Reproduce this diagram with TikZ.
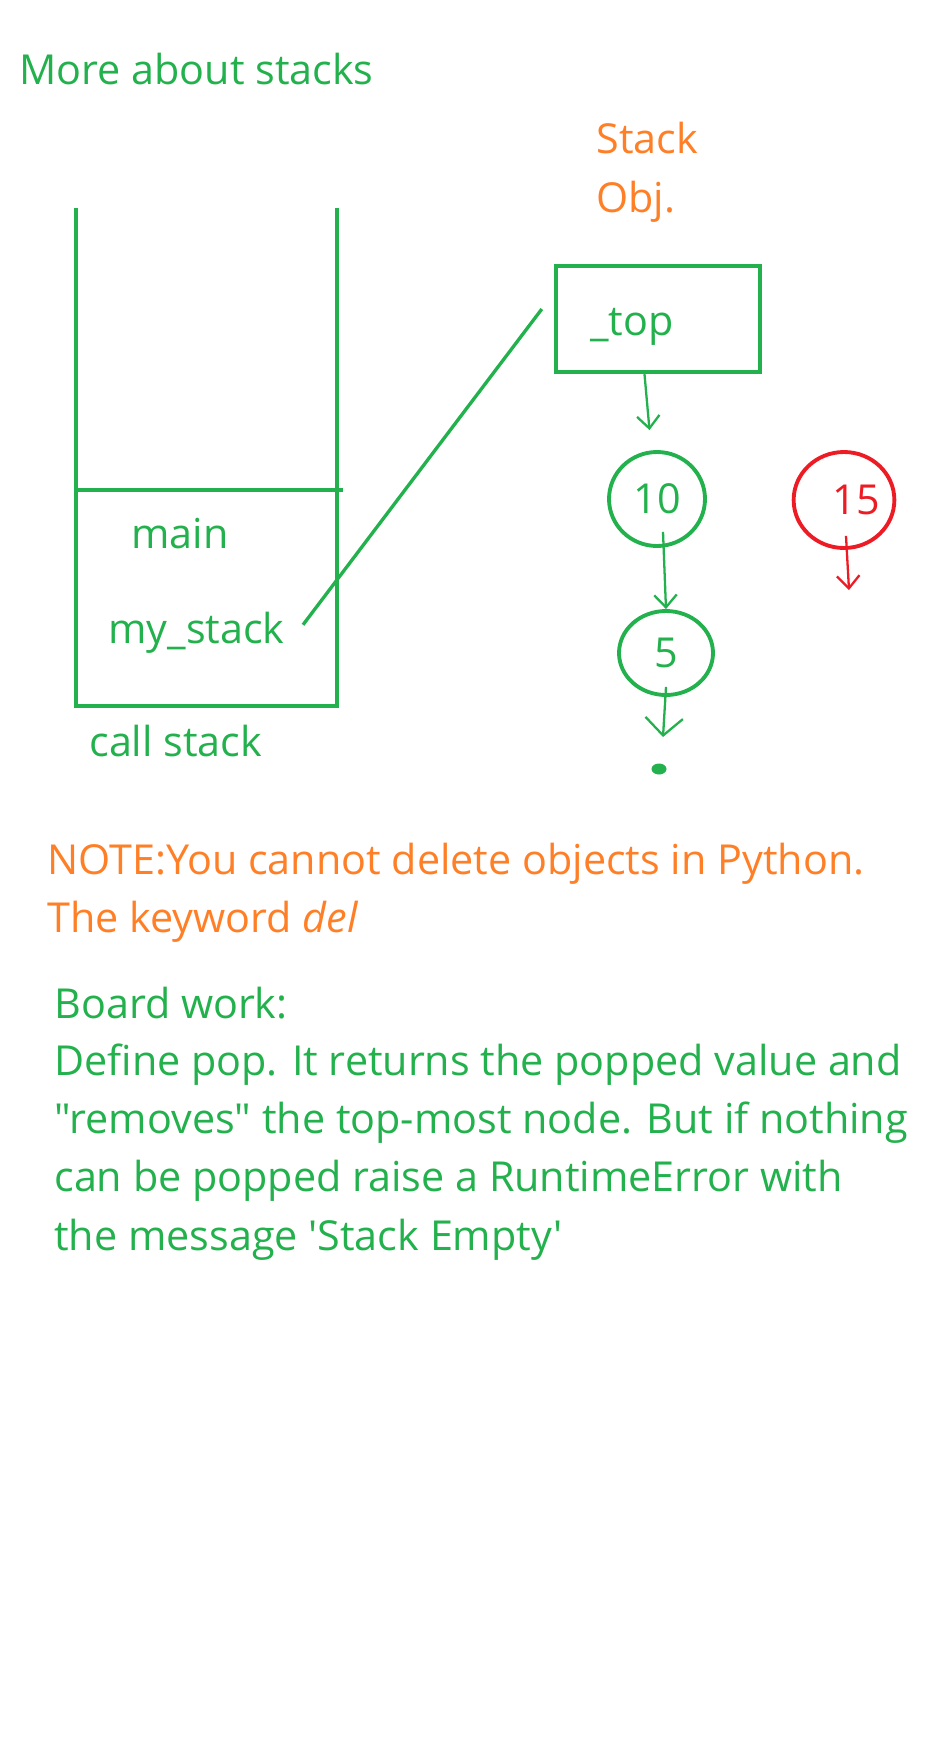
\documentclass[tikz,border=0pt]{standalone}
\usepackage{fontspec}
\setmainfont{Open Sans}[Ligatures=TeXOff]
\usepackage{xcolor}
\usetikzlibrary{positioning}
\usetikzlibrary{shapes}
\usetikzlibrary{arrows.meta}
\definecolor{paintgreen}{RGB}{34,177,76}
\definecolor{paintorange}{RGB}{255,127,39}
\definecolor{paintred}{RGB}{237,28,36}
\tikzset{mytext/.style={inner sep=0pt, anchor=base west, font=\fontsize{23.5}{28}\selectfont}}
\tikzset{greentext/.style={mytext, text=paintgreen}}
\tikzset{orangetext/.style={mytext, text=paintorange}}
\tikzset{stackline/.style={draw=paintgreen, line width=2.5pt}}
\tikzset{objbox/.style={draw=paintgreen, line width=2.5pt, minimum width=4.08cm, minimum height=2.12cm}}
\tikzset{listnode/.style={draw=paintgreen, line width=2.2pt, ellipse, inner sep=0pt, text=paintgreen, font=\fontsize{23.5}{28}\selectfont}}
\tikzset{gonenode/.style={listnode, draw=paintred, text=paintred}}
\tikzset{pointer/.style={-{Straight Barb[length=0.25cm, width=0.45cm]}, draw=paintgreen, line width=1.3pt}}

\begin{document}
\begin{tikzpicture}
\useasboundingbox (0, 0) rectangle (18.56, -35.04);

\node[greentext] (title) at (0.38, -1.68) {More about stacks};

% call stack
\draw[stackline] (1.52, -4.16) -- (1.52, -14.12) -- (6.74, -14.12) -- (6.74, -4.16);
\draw[stackline] (1.52, -9.80) -- (6.86, -9.80);
\node[greentext] (main) at (2.62, -10.96) {main};
\node[greentext] (mystack) at (2.16, -12.86) {my\_stack};
\node[greentext] (callstack) at (1.78, -15.12) {call stack};

% stack object
\node[orangetext] (stackobj) at (11.92, -3.06) {Stack};
\node[orangetext] (stackobj2) at (11.92, -4.24) {Obj.};
\node[objbox] (topbox) at (13.16, -6.38) {};
\node[greentext] (top) at (11.80, -6.70) {\_top};

\node[listnode, minimum width=1.92cm, minimum height=1.88cm] (ten) at (13.14, -9.98) {10};
\node[listnode, minimum width=1.88cm, minimum height=1.68cm] (five) at (13.32, -13.06) {5};
\fill[paintgreen] (13.18, -15.38) ellipse (0.15 and 0.11);
\coordinate (nil) at (13.26, -14.74);

\node[gonenode, minimum width=1.92cm, minimum height=1.92cm] (fifteen) at (16.88, -10.0) {\hspace*{0.48cm}15};
\coordinate (gone) at (16.98, -11.80);

\draw[stackline, line width=1.9pt] ([xshift=0.36cm, yshift=0.15cm]mystack.east) -- ([xshift=-0.24cm, yshift=0.2cm]topbox.west);
\draw[pointer] ([xshift=-0.27cm]topbox.south) to ([xshift=-0.15cm, yshift=0.4cm]ten.north);
\draw[pointer] ([xshift=0.12cm, yshift=0.32cm]ten.south) to (five.north);
\draw[pointer, -{Straight Barb[length=0.35cm, width=0.75cm]}] ([yshift=0.2cm]five.south) to (nil);
\draw[pointer, draw=paintred] ([xshift=0.04cm, yshift=0.28cm]fifteen.south) to (gone);

% notes
\node[orangetext] (note1) at (0.94, -17.48) {NOTE:You cannot delete objects in Python.};
\node[orangetext] (note2) at (0.94, -18.64) {The keyword \textit{del}};

\node[greentext] (board1) at (1.08, -20.36) {Board work:};
\node[greentext] (board2) at (1.08, -21.50) {Define pop. It returns the popped value and};
\node[greentext] (board3) at (1.08, -22.66) {"removes" the top-most node. But if nothing};
\node[greentext] (board4) at (1.08, -23.82) {can be popped raise a RuntimeError with};
\node[greentext] (board5) at (1.08, -25.00) {the message 'Stack Empty'};

\end{tikzpicture}
\end{document}
